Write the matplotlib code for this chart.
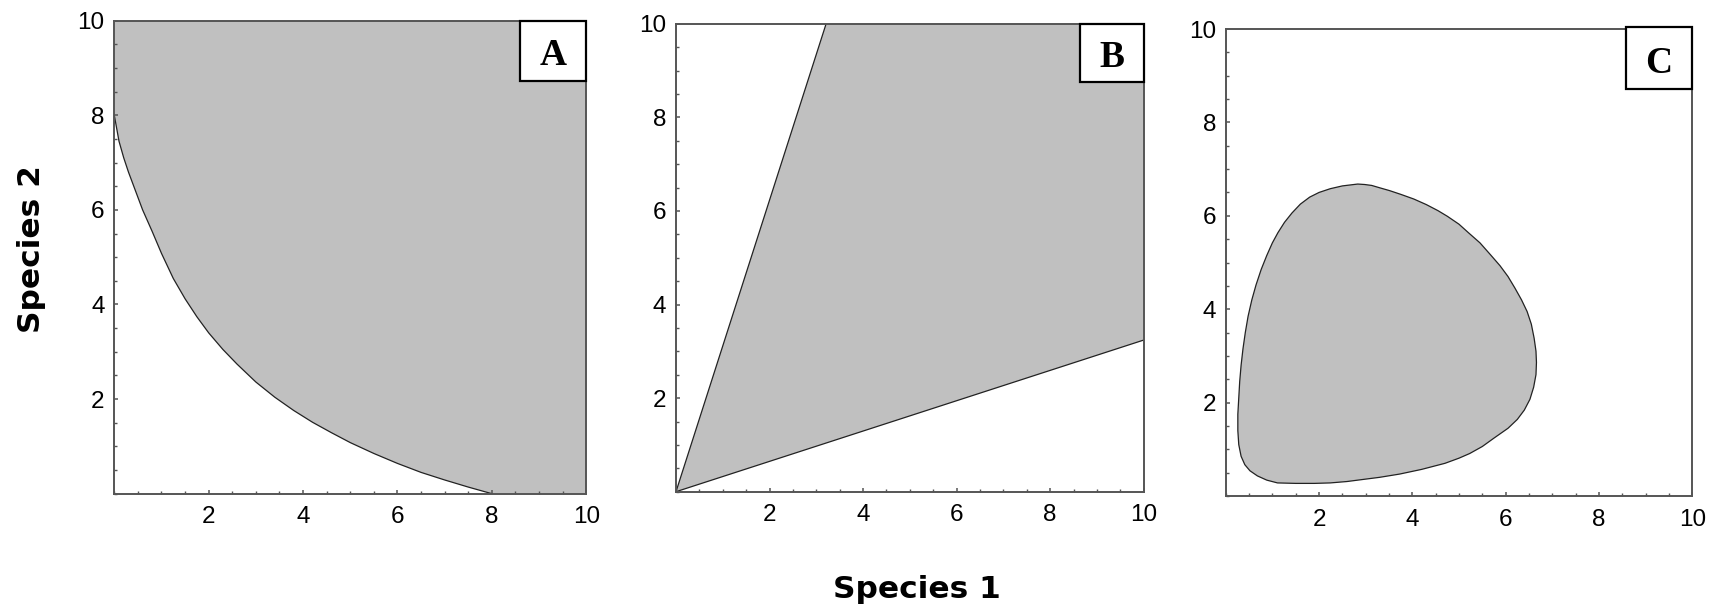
import matplotlib
matplotlib.use("Agg")
import matplotlib.pyplot as plt
from matplotlib.patches import Rectangle
from matplotlib.ticker import MultipleLocator, FixedLocator

# ---------------- data ----------------
# Panel A: lower boundary of shaded region
a_x = [0.0, 0.1, 0.2, 0.3, 0.45, 0.6, 0.8, 1.0, 1.25, 1.5, 1.75, 2.0, 2.3, 2.6, 3.0,
       3.4, 3.8, 4.2, 4.6, 5.0, 5.5, 6.0, 6.5, 7.0, 7.5, 8.0]
a_y = [8.0, 7.45, 7.1, 6.8, 6.4, 6.0, 5.55, 5.08, 4.55, 4.12, 3.74, 3.40, 3.05, 2.74, 2.36,
       2.04, 1.76, 1.51, 1.29, 1.08, 0.85, 0.64, 0.45, 0.29, 0.14, 0.0]

# Panel B: two boundary rays from the origin
b_upper_x = [0.0, 3.21]
b_upper_y = [0.0, 10.0]
b_lower_x = [0.0, 10.0]
b_lower_y = [0.0, 3.24]

# Panel C: closed boundary
c_x = [2.83, 2.5, 2.24, 2.0, 1.8, 1.6, 1.42, 1.26, 1.12, 1.0, 0.88, 0.76, 0.65, 0.56, 0.48,
       0.42, 0.37, 0.33, 0.30, 0.28, 0.26, 0.26, 0.28, 0.33, 0.41, 0.52, 0.68, 0.88, 1.11,
       1.5, 1.9, 2.24, 2.6, 2.91, 3.3, 3.73, 4.2, 4.7, 5.0, 5.23, 5.5, 5.75, 6.05, 6.25,
       6.4, 6.52, 6.6, 6.65, 6.66, 6.65, 6.61, 6.55, 6.46, 6.34, 6.2, 6.05, 5.88, 5.68,
       5.45, 5.2, 5.0, 4.75, 4.55, 4.3, 4.03, 3.75, 3.51, 3.3, 3.13, 2.98]
c_y = [6.68, 6.64, 6.58, 6.5, 6.4, 6.25, 6.06, 5.86, 5.64, 5.42, 5.15, 4.85, 4.52, 4.2, 3.85,
       3.5, 3.15, 2.8, 2.45, 2.1, 1.75, 1.4, 1.1, 0.85, 0.67, 0.54, 0.43, 0.34, 0.28,
       0.27, 0.27, 0.28, 0.31, 0.35, 0.40, 0.47, 0.57, 0.70, 0.81, 0.91, 1.06, 1.24, 1.45, 1.64,
       1.84, 2.07, 2.33, 2.6, 2.86, 3.1, 3.38, 3.68, 3.95, 4.2, 4.45, 4.7, 4.93, 5.16,
       5.42, 5.64, 5.82, 5.99, 6.11, 6.24, 6.36, 6.46, 6.54, 6.6, 6.65, 6.67]

panel_labels = ["A", "B", "C"]
tick_values = [2, 4, 6, 8, 10]
tick_labels = ["2", "4", "6", "8", "10"]
xlabel = "Species 1"
ylabel = "Species 2"

# ---------------- style ----------------
W, H = 1727, 610
fig = plt.figure(figsize=(W / 100, H / 100), dpi=100)

FILL = "#c0c0c0"
SPINE = "#555555"
LINE = "#222222"

# axes pixel boxes (left, top, right, bottom)
boxes = [(114.3, 20.7, 586.3, 493.7),
         (676.0, 23.7, 1143.7, 491.7),
         (1225.7, 29.0, 1692.3, 496.0)]
# label box positions in axes fraction (x0, y0, y1)
lab_boxes = [(0.8595, 0.8725, 1.0), (0.863, 0.876, 1.0), (0.857, 0.871, 1.004)]

axes = []
for (l, t, r, b) in boxes:
    ax = fig.add_axes([l / W, 1 - b / H, (r - l) / W, (b - t) / H])
    ax.set_xlim(0, 10)
    ax.set_ylim(0, 10)
    for s in ax.spines.values():
        s.set_color(SPINE)
        s.set_linewidth(1.4)
    ax.xaxis.set_major_locator(FixedLocator(tick_values))
    ax.yaxis.set_major_locator(FixedLocator(tick_values))
    ax.set_xticklabels(tick_labels, fontfamily="Liberation Sans", fontsize=17.5)
    ax.set_yticklabels(tick_labels, fontfamily="Liberation Sans", fontsize=17.5)
    ax.xaxis.set_minor_locator(MultipleLocator(0.5))
    ax.yaxis.set_minor_locator(MultipleLocator(0.5))
    ax.tick_params(which="both", direction="in", color=SPINE, top=False, right=False)
    ax.tick_params(which="major", length=3.2, width=1.1)
    ax.tick_params(which="minor", length=2.2, width=1.0)
    ax.tick_params(axis="x", which="major", pad=9)
    ax.tick_params(axis="y", which="major", pad=7)
    axes.append(ax)

# Panel A
axA = axes[0]
polyA_x = a_x + [10, 10, 0]
polyA_y = a_y + [0, 10, 10]
axA.fill(polyA_x, polyA_y, color=FILL, lw=0, zorder=1)
axA.plot(a_x, a_y, color=LINE, lw=0.9, zorder=2)

# Panel B
axB = axes[1]
polyB_x = [b_lower_x[0], b_lower_x[1], 10, b_upper_x[1]]
polyB_y = [b_lower_y[0], b_lower_y[1], 10, b_upper_y[1]]
axB.fill(polyB_x, polyB_y, color=FILL, lw=0, zorder=1)
axB.plot(b_upper_x, b_upper_y, color=LINE, lw=0.9, zorder=2)
axB.plot(b_lower_x, b_lower_y, color=LINE, lw=0.9, zorder=2)

# Panel C
axC = axes[2]
axC.fill(c_x, c_y, facecolor=FILL, edgecolor=LINE, lw=0.9, joinstyle="round", zorder=1)

# panel label boxes
for ax, lab, (x0, y0, y1) in zip(axes, panel_labels, lab_boxes):
    rect = Rectangle((x0, y0), 1.0 - x0, y1 - y0, transform=ax.transAxes,
                     facecolor="white", edgecolor="black", lw=1.6, clip_on=False, zorder=5)
    ax.add_patch(rect)
    ax.text((x0 + 1.0) / 2, y0 + 0.26 * (y1 - y0), lab, transform=ax.transAxes,
            ha="center", va="baseline", fontfamily="Liberation Serif",
            fontweight="bold", fontsize=27, zorder=6)

fig.text(917 / W, 1 - 598 / H, xlabel, ha="center", va="baseline",
         fontfamily="DejaVu Sans", fontweight="bold", fontsize=22.5)
fig.text(31 / W, 1 - 249 / H, ylabel, ha="center", va="center", rotation=90,
         fontfamily="DejaVu Sans", fontweight="bold", fontsize=22.5)

fig.savefig("out.png", dpi=100, facecolor="white")
